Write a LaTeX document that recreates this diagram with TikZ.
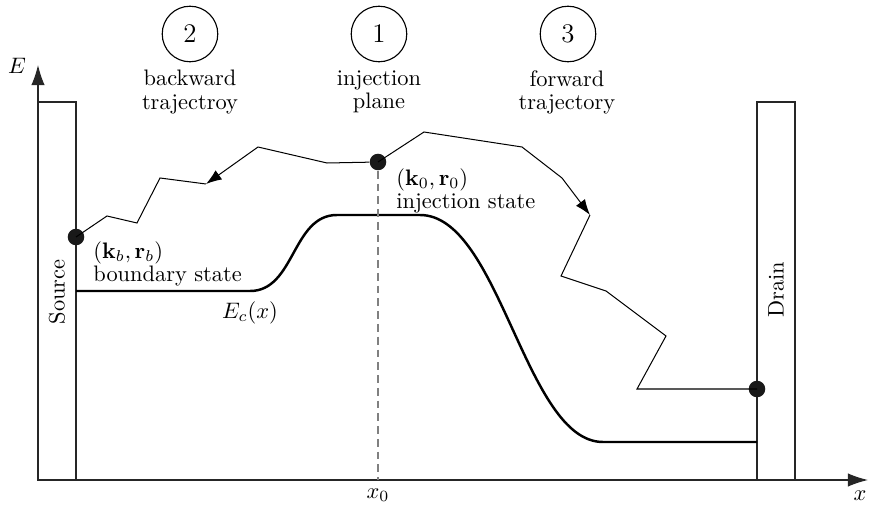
\documentclass[tikz,border=0pt]{standalone}
\usetikzlibrary{arrows.meta}
\begin{document}
\begin{tikzpicture}[x=0.4464pt,y=-0.4464pt,
  thinline/.style={line width=0.5pt,black!85},
  traj/.style={line width=0.45pt,black},
  trajarrow/.style={traj,-{Latex[length=7pt,width=5pt]}},
  axisarrow/.style={line width=0.5pt,black!85,-{Latex[length=9pt,width=6pt]}},
  band/.style={line width=1.1pt,black},
  dot/.style={circle,fill=black!90,inner sep=0pt,minimum size=7.4pt},
  numcircle/.style={circle,draw,line width=0.5pt,minimum size=24.8pt,inner sep=0pt,font=\large},
  lbl/.style={align=center,font=\fontsize{10}{10.3}\selectfont},
  lbll/.style={align=left,font=\fontsize{10}{10.5}\selectfont,inner sep=0pt},
  dashline/.style={line width=0.5pt,gray,dash pattern=on 3.5pt off 2.2pt}]
\useasboundingbox (0,0) rectangle (869,506);
% axes
\coordinate (origin) at (38,480);
\coordinate (ytip) at (38,65);
\coordinate (xtip) at (868,480);
\draw[axisarrow] (origin) -- (ytip);
\draw[axisarrow] (origin) -- (xtip);
\node (Elbl) at (17,66) {$E$};
\node[inner sep=1pt] (xlbl) at (860,496) {$x$};
% source and drain boxes
\draw[thinline] (38,102) rectangle (76,480);
\draw[thinline] (757,102) rectangle (795,480);
\node[rotate=90] (source) at (57,292) {Source};
\node[rotate=90] (drain) at (776,290) {Drain};
% numbered circles and captions
\node[numcircle] (c2) at (190,34) {2};
\node[numcircle] (c1) at (379,34) {1};
\node[numcircle] (c3) at (568,34) {3};
\node[lbl] (t2) at (190,92) {backward\\trajectroy};
\node[lbl] (t1) at (379,92) {injection\\plane};
\node[lbl] (t3) at (567,92) {forward\\trajectory};
% conduction band
\draw[band] (76,291) -- (250,291) .. controls (295,291) and (292,215) .. (337,215)
  -- (420,215) .. controls (500,215) and (525,442) .. (603,442) -- (757,442);
\node (Ec) at (250,313) {$E_c(x)$};
% states
\node[dot] (inj) at (378,162) {};
\node[dot] (bnd) at (76,237) {};
\node[dot] (drn) at (757,389) {};
\coordinate (x0base) at (378,480);
\draw[dashline] (inj) -- (x0base);
\node (x0) at (378,495) {$x_0$};
\node[lbll,anchor=north west] (injlbl) at (396,168) {$(\mathbf{k}_0,\mathbf{r}_0)$\\injection state};
\node[lbll,anchor=north west] (bndlbl) at (93,241) {$(\mathbf{k}_b,\mathbf{r}_b)$\\boundary state};
% backward trajectory
\coordinate (b1) at (327,163);
\coordinate (b2) at (258,147);
\coordinate (b3) at (206,184);
\coordinate (b4) at (160,178);
\coordinate (b5) at (137,223);
\coordinate (b6) at (107,216);
\draw[traj] (inj) -- (b1) -- (b2);
\draw[trajarrow] (b2) -- (b3);
\draw[traj] (b3) -- (b4) -- (b5) -- (b6) -- (bnd.center);
% forward trajectory
\coordinate (f1) at (424,132);
\coordinate (f2) at (522,147);
\coordinate (f3) at (562,178);
\coordinate (f4) at (590,215);
\coordinate (f5) at (561,276);
\coordinate (f6) at (606,291);
\coordinate (f7) at (666,336);
\coordinate (f8) at (637,389);
\draw[traj] (inj.center) -- (f1) -- (f2) -- (f3);
\draw[trajarrow] (f3) -- (f4);
\draw[traj] (f4) -- (f5) -- (f6) -- (f7) -- (f8) -- (drn.center);
\end{tikzpicture}
\end{document}
